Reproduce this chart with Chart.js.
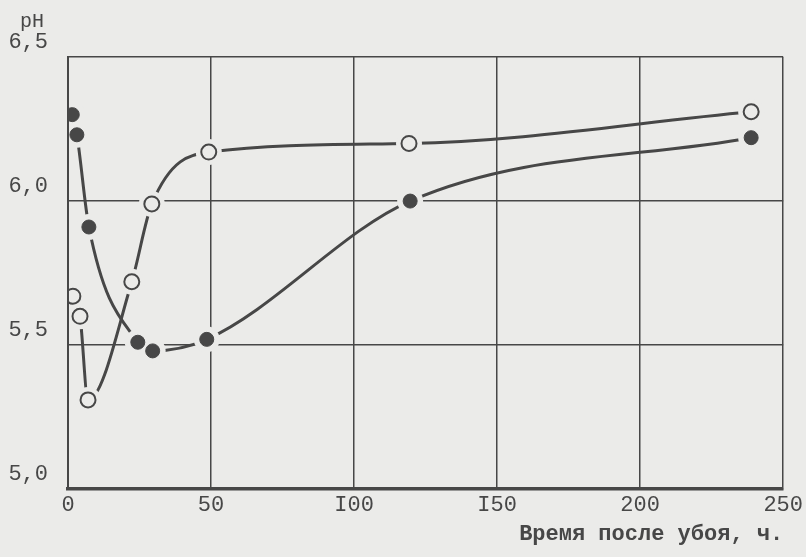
<!DOCTYPE html>
<html>
<head>
<meta charset="utf-8">
<script src="https://cdn.jsdelivr.net/npm/chart.js@4"></script>
<style>
  html, body { margin: 0; padding: 0; background: #ebebe9; }
  #wrap { width: 806px; height: 557px; }
</style>
</head>
<body>
<div id="wrap"><canvas id="phChart" width="806" height="557"></canvas></div>
<script>
// pH мяса после убоя: две серии (светлые и тёмные кружки)
const openHours = [1.7, 4.2, 7.0, 22.3, 29.3, 49.2, 119.2, 238.8];
const openPH = [5.67, 5.60, 5.31, 5.72, 5.99, 6.17, 6.20, 6.31];
const filledHours = [1.5, 3.1, 7.3, 24.4, 29.6, 48.5, 119.6, 238.8];
const filledPH = [6.30, 6.23, 5.91, 5.51, 5.48, 5.52, 6.00, 6.22];

const xTickValues = [0, 50, 100, 150, 200, 250];
const xTickLabels = ["0", "50", "I00", "I50", "200", "250"];
const yTickValues = [5.0, 5.5, 6.0, 6.5];
const yTickLabels = ["5,0", "5,5", "6,0", "6,5"];

const ink = "#474747";
const paper = "#ebebe9";
const typeFont = "'Liberation Mono', 'DejaVu Sans Mono', monospace";

const toPoints = (xs, ys) => xs.map((x, i) => ({ x: x, y: ys[i] }));
const openPts = toPoints(openHours, openPH);
const filledPts = toPoints(filledHours, filledPH);

// подпись "pH" над осью
const phLabel = {
  id: "phLabel",
  afterDraw(chart) {
    const c = chart.ctx;
    c.save();
    c.fillStyle = ink;
    c.font = "20px " + typeFont;
    c.textAlign = "left";
    c.textBaseline = "middle";
    c.fillText("pH", chart.chartArea.left - 48, chart.chartArea.top - 35);
    c.restore();
  }
};

const lineStyle = {
  showLine: true,
  borderColor: ink,
  borderWidth: 3,
  cubicInterpolationMode: "monotone",
  pointRadius: 0,
  order: 3
};
const markClip = { left: 0, top: 10, right: 10, bottom: 10 };
const haloStyle = {
  showLine: false,
  pointRadius: 13,
  pointBackgroundColor: paper,
  pointBorderWidth: 0,
  clip: markClip,
  order: 2
};

new Chart(document.getElementById("phChart").getContext("2d"), {
  type: "scatter",
  data: {
    datasets: [
      Object.assign({ label: "open line", data: openPts }, lineStyle),
      Object.assign({ label: "filled line", data: filledPts }, lineStyle),
      Object.assign({ label: "open halo", data: openPts }, haloStyle),
      Object.assign({ label: "filled halo", data: filledPts }, haloStyle),
      {
        label: "open",
        data: openPts,
        showLine: false,
        pointRadius: 7.5,
        pointBackgroundColor: paper,
        pointBorderColor: ink,
        pointBorderWidth: 2,
        clip: markClip,
        order: 1
      },
      {
        label: "filled",
        data: filledPts,
        showLine: false,
        pointRadius: 7,
        pointBackgroundColor: ink,
        pointBorderColor: ink,
        pointBorderWidth: 1,
        clip: markClip,
        order: 1
      }
    ]
  },
  options: {
    responsive: false,
    animation: false,
    layout: { padding: { left: 8, top: 57, right: 0, bottom: 9 } },
    plugins: {
      legend: { display: false },
      tooltip: { enabled: false }
    },
    scales: {
      x: {
        type: "linear",
        min: 0,
        max: 250,
        afterBuildTicks: (s) => { s.ticks = xTickValues.map(v => ({ value: v })); },
        ticks: {
          color: ink,
          font: { family: typeFont, size: 22 },
          padding: 3,
          callback: (v) => xTickLabels[xTickValues.indexOf(v)]
        },
        grid: { color: ink, lineWidth: 1.5, drawTicks: false },
        border: { color: ink, width: 3.5, z: 1 },
        title: {
          display: true,
          text: "Время после убоя, ч.",
          align: "end",
          color: ink,
          font: { family: typeFont, size: 22, weight: "bold" },
          padding: { top: 0, bottom: 0 }
        }
      },
      y: {
        type: "linear",
        min: 5.0,
        max: 6.5,
        afterBuildTicks: (s) => { s.ticks = yTickValues.map(v => ({ value: v })); },
        afterFit: (s) => { s.width = 60; },
        ticks: {
          color: ink,
          font: { family: typeFont, size: 22 },
          padding: 20,
          labelOffset: -15,
          callback: (v) => yTickLabels[yTickValues.indexOf(v)]
        },
        grid: { color: ink, lineWidth: 1.5, drawTicks: false },
        border: { color: ink, width: 2, z: 1 }
      }
    }
  },
  plugins: [phLabel]
});
</script>
</body>
</html>
